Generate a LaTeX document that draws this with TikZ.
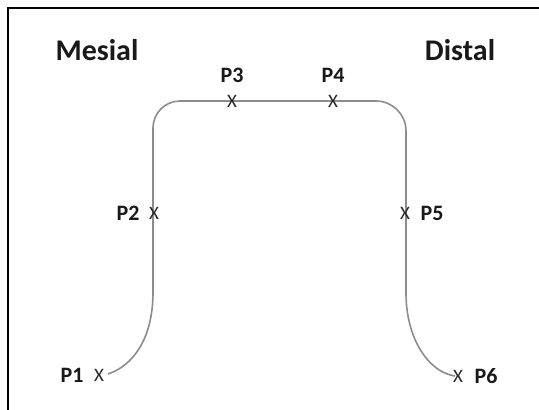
\documentclass[tikz,border=0pt]{standalone}
\usepackage{fontspec}
\setmainfont{Carlito}
\begin{document}
\begin{tikzpicture}[x=1pt,y=-1pt,
  lbl/.style={font=\bfseries\fontsize{22}{22}\selectfont, inner sep=0pt, text=black!90},
  big/.style={font=\bfseries\fontsize{30}{30}\selectfont, inner sep=0pt, text=black!90},
  mk/.style={font=\fontsize{19}{19}\selectfont, inner sep=0pt, text=black!85},
  wire/.style={draw=black!45, line width=1.6pt}]
\useasboundingbox (0,0) rectangle (539,410);
\draw[line width=1.2pt] (8,410) -- (8,8) -- (539,8);
% path points
\coordinate (p1) at (108,374);
\coordinate (a1) at (153,292);
\coordinate (a2) at (153,128);
\coordinate (a3) at (180,101);
\coordinate (a4) at (376,101);
\coordinate (a5) at (406,131);
\coordinate (a6) at (406,293);
\coordinate (p6) at (455,376);
\draw[wire] (p1) .. controls (132,366) and (153,340) .. (a1) -- (a2)
  arc[start angle=180, end angle=270, radius=27] -- (a4)
  arc[start angle=270, end angle=360, radius=30] -- (a6)
  .. controls (406,338) and (428,372) .. (p6);
% marks
\node[mk] (x1) at (99,375) {X};
\node[mk] (x2) at (154,213) {X};
\node[mk] (x3) at (232,101) {X};
\node[mk] (x4) at (333,101) {X};
\node[mk] (x5) at (405,213) {X};
\node[mk] (x6) at (458,376) {X};
% labels
\node[lbl] (l1) at (72,375) {P1};
\node[lbl] (l2) at (128,213) {P2};
\node[lbl] (l3) at (232,75) {P3};
\node[lbl] (l4) at (333,75) {P4};
\node[lbl] (l5) at (432,213) {P5};
\node[lbl] (l6) at (486,376) {P6};
\node[big] (m) at (97,50) {Mesial};
\node[big] (d) at (460,50) {Distal};
\end{tikzpicture}
\end{document}
